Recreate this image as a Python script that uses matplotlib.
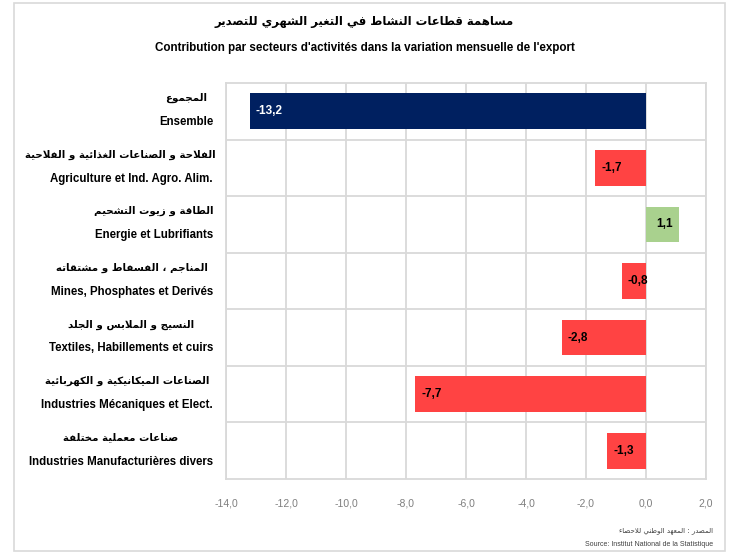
import matplotlib
matplotlib.use("Agg")
import matplotlib.pyplot as plt
from matplotlib.patches import Rectangle
from matplotlib.ticker import FixedLocator, FuncFormatter

# chart data
labels_ar = [
    "المجموع",
    "الفلاحة و الصناعات الغذائية و الفلاحية",
    "الطاقة و زيوت التشحيم",
    "المناجم ، الفسفاط و مشتقاته",
    "النسيج و الملابس و الجلد",
    "الصناعات الميكانيكية و الكهربائية",
    "صناعات معملية مختلفة",
]
labels_fr = [
    "Ensemble",
    "Agriculture et Ind. Agro. Alim.",
    "Energie et Lubrifiants",
    "Mines, Phosphates et Derivés",
    "Textiles, Habillements et cuirs",
    "Industries Mécaniques et Elect.",
    "Industries Manufacturières divers",
]
values = [-13.2, -1.7, 1.1, -0.8, -2.8, -7.7, -1.3]
x_ticks = [-14, -12, -10, -8, -6, -4, -2, 0, 2]

title_ar = "مساهمة قطاعات النشاط في التغير الشهري للتصدير"
title_fr = "Contribution par secteurs d'activités dans la variation mensuelle de l'export"
source_ar = "المصدر : المعهد الوطني للاحصاء"
source_fr = "Source: Institut National de la Statistique"

NAVY = "#002060"
RED = "#FF4343"
GREEN = "#A9D18E"
GRID = "#D9D9D9"

# --- minimal arabic shaping (matplotlib does no contextual forms / RTL) ---
# letter: (isolated, final, initial, medial) ; two-form letters don't join forward
FORMS = {
    "ء": (0xFE80,), "آ": (0xFE81, 0xFE82), "أ": (0xFE83, 0xFE84),
    "ؤ": (0xFE85, 0xFE86), "إ": (0xFE87, 0xFE88),
    "ئ": (0xFE89, 0xFE8A, 0xFE8B, 0xFE8C), "ا": (0xFE8D, 0xFE8E),
    "ب": (0xFE8F, 0xFE90, 0xFE91, 0xFE92), "ة": (0xFE93, 0xFE94),
    "ت": (0xFE95, 0xFE96, 0xFE97, 0xFE98), "ث": (0xFE99, 0xFE9A, 0xFE9B, 0xFE9C),
    "ج": (0xFE9D, 0xFE9E, 0xFE9F, 0xFEA0), "ح": (0xFEA1, 0xFEA2, 0xFEA3, 0xFEA4),
    "خ": (0xFEA5, 0xFEA6, 0xFEA7, 0xFEA8), "د": (0xFEA9, 0xFEAA),
    "ذ": (0xFEAB, 0xFEAC), "ر": (0xFEAD, 0xFEAE), "ز": (0xFEAF, 0xFEB0),
    "س": (0xFEB1, 0xFEB2, 0xFEB3, 0xFEB4), "ش": (0xFEB5, 0xFEB6, 0xFEB7, 0xFEB8),
    "ص": (0xFEB9, 0xFEBA, 0xFEBB, 0xFEBC), "ض": (0xFEBD, 0xFEBE, 0xFEBF, 0xFEC0),
    "ط": (0xFEC1, 0xFEC2, 0xFEC3, 0xFEC4), "ظ": (0xFEC5, 0xFEC6, 0xFEC7, 0xFEC8),
    "ع": (0xFEC9, 0xFECA, 0xFECB, 0xFECC), "غ": (0xFECD, 0xFECE, 0xFECF, 0xFED0),
    "ف": (0xFED1, 0xFED2, 0xFED3, 0xFED4), "ق": (0xFED5, 0xFED6, 0xFED7, 0xFED8),
    "ك": (0xFED9, 0xFEDA, 0xFEDB, 0xFEDC), "ل": (0xFEDD, 0xFEDE, 0xFEDF, 0xFEE0),
    "م": (0xFEE1, 0xFEE2, 0xFEE3, 0xFEE4), "ن": (0xFEE5, 0xFEE6, 0xFEE7, 0xFEE8),
    "ه": (0xFEE9, 0xFEEA, 0xFEEB, 0xFEEC), "و": (0xFEED, 0xFEEE),
    "ى": (0xFEEF, 0xFEF0), "ي": (0xFEF1, 0xFEF2, 0xFEF3, 0xFEF4),
}
LAM_ALEF = {"ا": (0xFEFB, 0xFEFC), "أ": (0xFEF7, 0xFEF8),
            "إ": (0xFEF9, 0xFEFA), "آ": (0xFEF5, 0xFEF6)}


def joins_forward(ch):
    return ch in FORMS and len(FORMS[ch]) == 4


def shape(text):
    out = []
    i = 0
    n = len(text)
    while i < n:
        ch = text[i]
        if ch not in FORMS:
            out.append(ch)
            i += 1
            continue
        prev = text[i - 1] if i > 0 else ""
        joined_prev = joins_forward(prev)
        if ch == "ل" and i + 1 < n and text[i + 1] in LAM_ALEF:
            iso, fin = LAM_ALEF[text[i + 1]]
            out.append(chr(fin if joined_prev else iso))
            i += 2
            continue
        nxt = text[i + 1] if i + 1 < n else ""
        forms = FORMS[ch]
        joined_next = len(forms) == 4 and nxt in FORMS
        if len(forms) == 1:
            code = forms[0]
        elif joined_prev and joined_next:
            code = forms[3]
        elif joined_next:
            code = forms[2]
        elif joined_prev:
            code = forms[1]
        else:
            code = forms[0]
        out.append(chr(code))
        i += 1
    return "".join(reversed(out))


LATIN = ["Liberation Sans", "DejaVu Sans"]
ARABIC = ["DejaVu Sans"]
plt.rcParams["font.family"] = LATIN

fig = plt.figure(figsize=(7.29, 5.55), dpi=100)
W, H = 729, 555
ax = fig.add_axes([226 / W, 1 - 479 / H, 480 / W, 396 / H])

ypos = list(range(len(values)))
colors = [NAVY] + [GREEN if v > 0 else RED for v in values[1:]]
ax.barh(ypos, values, height=0.63, color=colors, zorder=3)

for y, v, c in zip(ypos, values, colors):
    txt = f"{v:.1f}".replace(".", ",")
    tcol = "white" if c == NAVY else "black"
    if v < 0:
        ax.text(v + 0.2, y, txt, ha="left", va="center", fontsize=8.5,
                fontweight="bold", color=tcol, zorder=4)
    else:
        ax.text(v - 0.2, y, txt, ha="right", va="center", fontsize=8.5,
                fontweight="bold", color=tcol, zorder=4)

ax.set_xlim(x_ticks[0], x_ticks[-1])
ax.set_ylim(len(values) - 0.5, -0.5)
ax.xaxis.set_major_locator(FixedLocator(x_ticks))
ax.xaxis.set_major_formatter(FuncFormatter(lambda v, p: f"{v:.1f}".replace(".", ",")))
ax.yaxis.set_major_locator(FixedLocator(ypos))
ax.yaxis.set_minor_locator(FixedLocator([y + 0.5 for y in ypos[:-1]]))
ax.set_yticklabels([])
ax.tick_params(axis="x", length=0, pad=14, labelsize=7.5, labelcolor="#7F7F7F")
ax.tick_params(axis="y", which="both", length=0)
ax.grid(axis="x", which="major", color=GRID, linewidth=1.3, zorder=0)
ax.grid(axis="y", which="minor", color=GRID, linewidth=1.3, zorder=0)
for sp in ax.spines.values():
    sp.set_color(GRID)
    sp.set_linewidth(1.3)

# category labels: french line right aligned, arabic line centred above it
fr_texts = []
for y, f in zip(ypos, labels_fr):
    t = fig.text(213 / W, 1 - (79 + 56.6 * y + 43) / H, f, ha="right", va="center",
                 fontsize=8.3, fontweight="bold")
    fr_texts.append(t)
fig.canvas.draw()
renderer = fig.canvas.get_renderer()
for y, a, t in zip(ypos, labels_ar, fr_texts):
    bb = t.get_window_extent(renderer)
    cx = (bb.x0 + bb.x1) / 2
    ta = fig.text(cx / W, 1 - (79 + 56.6 * y + 19) / H, shape(a), ha="center",
                  va="center", fontsize=7.4, fontweight="bold", family=ARABIC)
    # keep the arabic line clear of the plot area
    abb = ta.get_window_extent(renderer)
    if abb.x1 > 216:
        ta.set_x((cx - (abb.x1 - 216)) / W)

fig.text(0.5, 1 - 22 / H, shape(title_ar), ha="center", va="center",
         fontsize=8.4, fontweight="bold", family=ARABIC)
fig.text(0.5, 1 - 48 / H, title_fr, ha="center", va="center",
         fontsize=8.4, fontweight="bold")
fig.text(713 / W, 1 - 531 / H, shape(source_ar), ha="right", va="center",
         fontsize=5, color="#404040", family=ARABIC)
fig.text(713 / W, 1 - 545 / H, source_fr, ha="right", va="center",
         fontsize=5, color="#404040")

# outer chart frame
fig.patches.append(Rectangle((14 / W, 4 / H), 711 / W, 548 / H, transform=fig.transFigure,
                             fill=False, edgecolor=GRID, linewidth=1.2))

fig.savefig("out.png", dpi=100)
